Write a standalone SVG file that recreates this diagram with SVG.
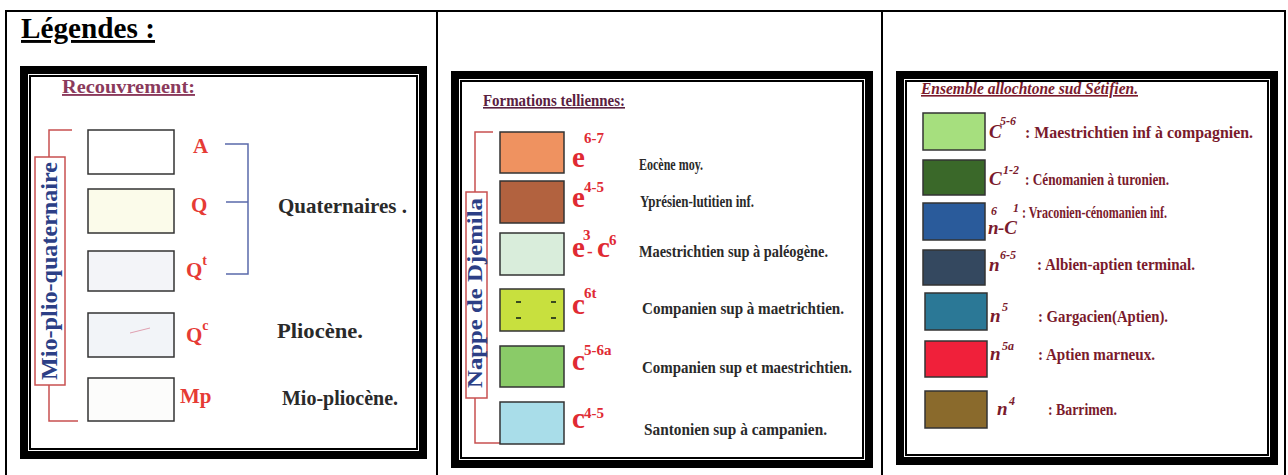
<svg xmlns="http://www.w3.org/2000/svg" width="1288" height="475" viewBox="0 0 1288 475">
<style>
.tb{fill:none;stroke:#000;stroke-width:2}
.fo{fill:#000}
.fi{fill:#fff}
.fl{fill:#fff;stroke:#000;stroke-width:2}
.bx{stroke:#333;stroke-width:1.5}
.t{font-family:"Liberation Serif","Times New Roman",serif;font-weight:bold}
.red{fill:#e63b35;font-size:21px}
.red2{fill:#e02a33;font-size:29px}
.s2{fill:#e02a33;font-size:15px}
.sup{font-size:14px}
.desc{fill:#2a2a2a;font-size:16px}
.d1{fill:#2a2a2a;font-size:21px}
.p3{fill:#7a1a2c;font-size:16px}
.p3i{fill:#7a1a2c;font-size:19px;font-style:italic}
.p3s{fill:#7a1a2c;font-size:12px;font-style:italic}
.vert{fill:#2c3f86}
.rb{fill:none;stroke:#c85050;stroke-width:1.5}
.bb{fill:none;stroke:#5a6aaa;stroke-width:1.5}
.vb{fill:#fff;stroke:#c85050;stroke-width:1.5}
</style>
<rect width="1288" height="475" fill="#fff"/>
<g id="table">
<rect class="tb" x="6" y="11" width="1279" height="480"/>
<line class="tb" x1="437" y1="11" x2="437" y2="475"/>
<line class="tb" x1="882" y1="11" x2="882" y2="475"/>
<text class="t" x="21" y="38" font-size="29" text-decoration="underline" textLength="134" lengthAdjust="spacingAndGlyphs" fill="#000">Légendes :</text>
</g>
<g id="frames">
<rect class="fo" x="20" y="66" width="407" height="393"/>
<rect class="fi" x="28" y="74" width="391" height="377"/>
<rect class="fl" x="30" y="76" width="387" height="373"/>
<rect class="fo" x="451" y="71" width="422" height="397"/>
<rect class="fi" x="459" y="79" width="406" height="381"/>
<rect class="fl" x="461" y="81" width="402" height="377"/>
<rect class="fo" x="896" y="71" width="382" height="394"/>
<rect class="fi" x="904" y="79" width="366" height="378"/>
<rect class="fl" x="906" y="81" width="362" height="374"/>
</g>
<g id="connectors">
<path class="rb" d="M72,130 H49 V157 M49,385 V421 H78"/>
<path class="bb" d="M225,144 H248 V274 H226 M226,202 H248"/>
<path class="rb" d="M493,132 H475 V192 M475,398 V443 H500"/>
</g>
<g id="panel1">
<text class="t" x="62" y="93" font-size="19" fill="#8b3a5c" text-decoration="underline" textLength="133" lengthAdjust="spacingAndGlyphs">Recouvrement:</text>
<g id="vlabel1"><rect class="vb" x="35" y="157" width="30" height="228"/>
<text class="t vert" font-size="24" text-anchor="middle" transform="translate(57,271) rotate(-90)" textLength="218" lengthAdjust="spacingAndGlyphs">Mio-plio-quaternaire</text></g>
<g id="A"><rect class="bx" x="88" y="130" width="86" height="44" fill="#ffffff"/><text class="t red" x="193" y="153">A</text></g>
<g id="Q"><rect class="bx" x="88" y="189" width="86" height="44" fill="#fbfbea"/><text class="t red" x="191" y="212">Q</text></g>
<g id="Qt"><rect class="bx" x="88" y="251" width="86" height="40" fill="#f3f4f8"/><text class="t red" x="186" y="277">Q<tspan class="sup" dy="-12">t</tspan></text></g>
<g id="Qc"><rect class="bx" x="88" y="313" width="86" height="44" fill="#f2f4f8"/><path d="M130,333 L150,328" stroke="#e0a0b0" stroke-width="1" fill="none"/><text class="t red" x="186" y="342">Q<tspan class="sup" dy="-12">c</tspan></text></g>
<g id="Mp"><rect class="bx" x="88" y="378" width="86" height="43" fill="#fcfcfb"/><text class="t red" x="180" y="403">Mp</text></g>
<text class="t d1" x="278" y="213" textLength="129" lengthAdjust="spacingAndGlyphs">Quaternaires .</text>
<text class="t d1" x="277" y="338" textLength="86" lengthAdjust="spacingAndGlyphs">Pliocène.</text>
<text class="t d1" x="282" y="405" textLength="116" lengthAdjust="spacingAndGlyphs">Mio-pliocène.</text>
</g>
<g id="panel2">
<text class="t" x="483" y="106" font-size="16" fill="#5a2040" text-decoration="underline" textLength="142" lengthAdjust="spacingAndGlyphs">Formations telliennes:</text>
<g id="vlabel2"><rect class="vb" x="466" y="192" width="21" height="206"/>
<text class="t vert" font-size="21" text-anchor="middle" transform="translate(482,293) rotate(-90)" textLength="190" lengthAdjust="spacingAndGlyphs">Nappe de Djemila</text></g>
<g id="e67"><rect class="bx" x="500" y="132" width="64" height="41" fill="#ef9260"/><text class="t red2" x="572" y="167">e</text><text class="t s2" x="584" y="143">6-7</text><text class="t desc" x="639" y="170" textLength="64" lengthAdjust="spacingAndGlyphs">Eocène moy.</text></g>
<g id="e45"><rect class="bx" x="500" y="181" width="64" height="42" fill="#b2623f"/><text class="t red2" x="572" y="207">e</text><text class="t s2" x="584" y="192">4-5</text><text class="t desc" x="640" y="207" textLength="114" lengthAdjust="spacingAndGlyphs">Yprésien-lutitien inf.</text></g>
<g id="e3c6"><rect class="bx" x="500" y="233" width="64" height="42" fill="#d9eddb"/><text class="t red2" x="572" y="257">e<tspan font-size="15" x="583" y="240">3</tspan><tspan font-size="17" x="587" y="257">-</tspan><tspan x="597" y="257">c</tspan><tspan font-size="15" x="609" y="245">6</tspan></text><text class="t desc" x="639" y="257" textLength="189" lengthAdjust="spacingAndGlyphs">Maestrichtien sup à paléogène.</text></g>
<g id="c6t"><rect class="bx" x="500" y="289" width="64" height="42" fill="#c8e03e"/><path d="M516,302 h5 M551,302 h5 M516,318 h5 M551,318 h5" stroke="#3a4a20" stroke-width="2"/><text class="t red2" x="572" y="314">c</text><text class="t s2" x="584" y="298">6t</text><text class="t desc" x="642" y="314" textLength="202" lengthAdjust="spacingAndGlyphs">Companien sup à maetrichtien.</text></g>
<g id="c56a"><rect class="bx" x="500" y="346" width="64" height="41" fill="#8acb68"/><text class="t red2" x="572" y="370">c</text><text class="t s2" x="584" y="355">5-6a</text><text class="t desc" x="642" y="373" textLength="210" lengthAdjust="spacingAndGlyphs">Companien sup et maestrichtien.</text></g>
<g id="c45"><rect class="bx" x="500" y="402" width="64" height="42" fill="#a9dde9"/><text class="t red2" x="572" y="428">c</text><text class="t s2" x="584" y="418">4-5</text><text class="t desc" x="644" y="435" textLength="183" lengthAdjust="spacingAndGlyphs">Santonien sup à campanien.</text></g>
</g>
<g id="panel3">
<text class="t p3" x="921" y="94" font-style="italic" font-size="14" text-decoration="underline" textLength="217" lengthAdjust="spacingAndGlyphs">Ensemble allochtone sud Sétifien.</text>
<g id="C56"><rect class="bx" x="923" y="113" width="62" height="37" fill="#a6df7e" stroke="#6a8a50"/><text class="t p3i" x="989" y="138">C</text><text class="t p3s" x="1000" y="125">5-6</text><text class="t p3" x="1025" y="138" textLength="228" lengthAdjust="spacingAndGlyphs">: Maestrichtien inf à compagnien.</text></g>
<g id="C12"><rect class="bx" x="923" y="160" width="62" height="35" fill="#3a6829"/><text class="t p3i" x="989" y="185">C</text><text class="t p3s" x="1003" y="174">1-2</text><text class="t p3" x="1025" y="185" textLength="144" lengthAdjust="spacingAndGlyphs">: Cénomanien à turonien.</text></g>
<g id="n6C1"><rect class="bx" x="923" y="203" width="62" height="37" fill="#2a5b9b"/><text class="t p3i" x="988" y="234">n</text><text class="t p3s" x="991" y="215">6</text><text class="t p3i" x="998" y="234">-C</text><text class="t p3s" x="1013" y="212">1</text><text class="t p3" x="1022" y="218" textLength="145" lengthAdjust="spacingAndGlyphs">: Vraconien-cénomanien inf.</text></g>
<g id="n65"><rect class="bx" x="923" y="250" width="62" height="35" fill="#34485f"/><text class="t p3i" x="989" y="271">n</text><text class="t p3s" x="1000" y="259">6-5</text><text class="t p3" x="1037" y="270" textLength="158" lengthAdjust="spacingAndGlyphs">: Albien-aptien terminal.</text></g>
<g id="n5"><rect class="bx" x="925" y="293" width="62" height="37" fill="#2b7896"/><text class="t p3i" x="990" y="322">n</text><text class="t p3s" x="1002" y="311">5</text><text class="t p3" x="1038" y="322" textLength="130" lengthAdjust="spacingAndGlyphs">: Gargacien(Aptien).</text></g>
<g id="n5a"><rect class="bx" x="925" y="341" width="62" height="36" fill="#f0203a"/><text class="t p3i" x="990" y="360">n</text><text class="t p3s" x="1002" y="350">5a</text><text class="t p3" x="1038" y="360" textLength="117" lengthAdjust="spacingAndGlyphs">: Aptien marneux.</text></g>
<g id="n4"><rect class="bx" x="925" y="391" width="62" height="37" fill="#8a6a2c"/><text class="t p3i" x="997" y="415">n</text><text class="t p3s" x="1009" y="405">4</text><text class="t p3" x="1048" y="415" textLength="69" lengthAdjust="spacingAndGlyphs">: Barrimen.</text></g>
</g>
</svg>
